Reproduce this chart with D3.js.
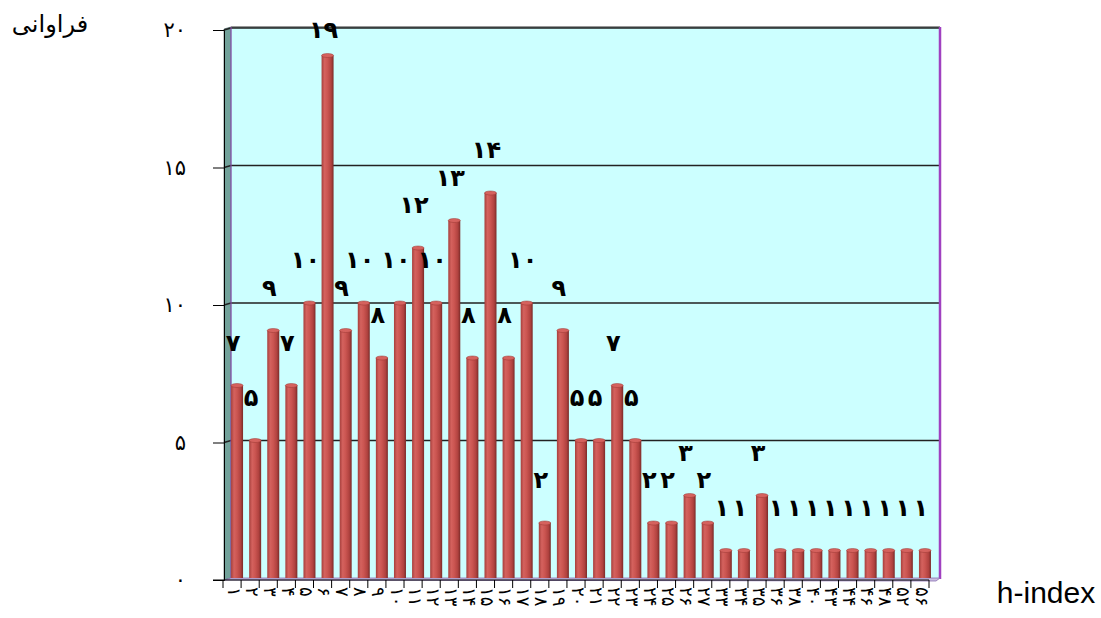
<!DOCTYPE html>
<html>
<head>
<meta charset="utf-8">
<script src="https://cdn.jsdelivr.net/npm/d3@7"></script>
<style>
  html, body { margin: 0; padding: 0; background: #fff; }
  svg { display: block; }
</style>
</head>
<body>
<svg id="chart" width="1101" height="618"></svg>
<script>
// h-index categories (Persian numerals) and the number of researchers in each
const hLabels = ["۱","۲","۳","۴","۵","۶","۷","۸","۹","۱۰","۱۱","۱۲","۱۳","۱۴","۱۵","۱۶","۱۷","۱۸","۱۹","۲۰",
                 "۲۱","۲۲","۲۳","۲۴","۲۵","۲۶","۲۷","۳۳","۳۴","۳۵","۳۶","۳۸","۴۰","۴۳","۴۴","۴۶","۴۸","۵۲","۵۶"];
const frequency = [7,5,9,7,10,19,9,10,8,10,12,10,13,8,14,8,10,2,9,5,
                   5,7,5,2,2,3,2,1,1,3,1,1,1,1,1,1,1,1,1];
const yTicks = [0, 5, 10, 15, 20];
const yTitle = "فراوانی";
const xTitle = "h-index";

const faDigits = "۰۱۲۳۴۵۶۷۸۹";
const toFa = n => String(n).replace(/\d/g, d => faDigits[+d]);

const svg = d3.select("#chart");
const idx = d3.range(frequency.length);

// back plane geometry and a small 3D offset for the front (axis) plane
const back = { left: 231, right: 940, top: 27, bottom: 578 };
const depthX = -7, depthY = 2;

const y = d3.scaleLinear().domain([0, 20]).range([back.bottom, back.top + 1]);
const xBack = d3.scaleBand().domain(idx).range([228, 934]).paddingInner(0);
const xFront = d3.scaleBand().domain(idx).range([223, 929]).paddingInner(0);

// gradient for the cylinder bars
const defs = svg.append("defs");
const g1 = defs.append("linearGradient").attr("id", "barGrad").attr("x1", 0).attr("x2", 1).attr("y1", 0).attr("y2", 0);
[[0, "#a63f3c"], [0.25, "#d4625e"], [0.5, "#cb5551"], [0.8, "#b0423f"], [1, "#7a2b29"]]
  .forEach(([o, c]) => g1.append("stop").attr("offset", o).attr("stop-color", c));

// back wall
svg.append("rect")
  .attr("x", back.left).attr("y", back.top)
  .attr("width", back.right - back.left).attr("height", back.bottom - back.top)
  .attr("fill", "#ccffff");
svg.append("line")
  .attr("x1", back.left).attr("x2", back.right)
  .attr("y1", back.top).attr("y2", back.top)
  .attr("stroke", "#333").attr("stroke-width", 1.2);

// left side wall
svg.append("path")
  .attr("d", `M${back.left + depthX},${back.top + depthY} L${back.left},${back.top} L${back.left},${back.bottom} L${back.left + depthX},${back.bottom + depthY} Z`)
  .attr("fill", "#72a29a")
  .attr("stroke", "#2f4a48").attr("stroke-width", 0.6);

// horizontal gridlines running from the side wall across the back wall
svg.append("g").selectAll("path")
  .data(yTicks.filter(t => t > 0))
  .join("path")
  .attr("d", t => `M${back.left + depthX},${y(t) + depthY} L${back.left},${y(t)} L${back.right},${y(t)}`)
  .attr("fill", "none")
  .attr("stroke", "#222")
  .attr("stroke-width", 1.4);

// wall borders
svg.append("line")
  .attr("x1", back.left).attr("x2", back.left)
  .attr("y1", back.top).attr("y2", back.bottom)
  .attr("stroke", "#9a4fc0").attr("stroke-width", 1);
svg.append("line")
  .attr("x1", back.right).attr("x2", back.right)
  .attr("y1", back.top).attr("y2", back.bottom + 1)
  .attr("stroke", "#a040c0").attr("stroke-width", 2.5);

// floor
svg.append("path")
  .attr("d", `M${back.left + depthX},${back.bottom + depthY} L${back.left},${back.bottom} L${back.right},${back.bottom} L${back.right - 4},${back.bottom + depthY + 1} Z`)
  .attr("fill", "#c9bfe0")
  .attr("stroke", "#8a6fb3").attr("stroke-width", 0.8);

// bars drawn as cylinders
const barW = 12;
const bars = svg.append("g").selectAll("g")
  .data(idx)
  .join("g");
bars.append("rect")
  .attr("x", i => xBack(i) + (xBack.bandwidth() - barW) / 2)
  .attr("y", i => y(frequency[i]))
  .attr("width", barW)
  .attr("height", i => y(0) - y(frequency[i]))
  .attr("fill", "url(#barGrad)");
bars.append("ellipse")
  .attr("cx", i => xBack(i) + xBack.bandwidth() / 2)
  .attr("cy", i => y(frequency[i]))
  .attr("rx", barW / 2)
  .attr("ry", 2)
  .attr("fill", "#d5625e")
  .attr("stroke", "#9a3633").attr("stroke-width", 0.5);

// value labels
svg.append("g").selectAll("text")
  .data(idx)
  .join("text")
  .attr("x", i => xBack(i) + xBack.bandwidth() / 2 - 4)
  .attr("y", i => Math.max(30, y(frequency[i]) - 43))
  .attr("text-anchor", "middle")
  .attr("dominant-baseline", "central")
  .attr("font-family", "DejaVu Sans, sans-serif")
  .attr("font-weight", "bold")
  .attr("font-size", 24)
  .attr("fill", "#000")
  .text(i => toFa(frequency[i]));

// y axis on the front plane
const yFront = y.copy().range([back.bottom + depthY, back.top + depthY + 1]);
const yAxisG = svg.append("g")
  .attr("transform", `translate(${back.left + depthX},0)`)
  .call(d3.axisLeft(yFront).tickValues(yTicks).tickSize(11).tickPadding(27).tickFormat(toFa));
yAxisG.select(".domain").attr("stroke", "#000").attr("stroke-width", 1);
yAxisG.selectAll(".tick line").attr("stroke", "#000");
yAxisG.selectAll("text")
  .attr("font-family", "DejaVu Sans, sans-serif")
  .attr("font-size", 21)
  .attr("fill", "#000");

// x axis on the front plane: boundary ticks and rotated category labels
const xAxisY = back.bottom + depthY;
const xAxisG = svg.append("g")
  .attr("transform", `translate(0,${xAxisY})`)
  .call(d3.axisBottom(xFront).tickSize(0).tickPadding(0).tickFormat(i => hLabels[i]));
xAxisG.select(".domain").remove();
xAxisG.selectAll("text")
  .attr("transform", "translate(1,7) rotate(90)")
  .attr("text-anchor", "start")
  .attr("dy", "0.3em")
  .attr("y", 0)
  .attr("font-family", "DejaVu Sans, sans-serif")
  .attr("font-size", 18)
  .attr("fill", "#000");

svg.append("line")
  .attr("x1", 213).attr("x2", xFront.range()[1])
  .attr("y1", xAxisY).attr("y2", xAxisY)
  .attr("stroke", "#000").attr("stroke-width", 1);
svg.append("g").selectAll("line")
  .data(d3.range(frequency.length + 1))
  .join("line")
  .attr("x1", i => i < frequency.length ? xFront(i) : xFront.range()[1])
  .attr("x2", i => i < frequency.length ? xFront(i) : xFront.range()[1])
  .attr("y1", xAxisY).attr("y2", xAxisY + 8)
  .attr("stroke", "#000").attr("stroke-width", 1);

// axis titles
svg.append("text")
  .attr("x", 50).attr("y", 24)
  .attr("text-anchor", "middle")
  .attr("dominant-baseline", "central")
  .attr("font-family", "DejaVu Sans, sans-serif")
  .attr("font-size", 24)
  .text(yTitle);
svg.append("text")
  .attr("x", 1046).attr("y", 592)
  .attr("text-anchor", "middle")
  .attr("dominant-baseline", "central")
  .attr("font-family", "Liberation Sans, Arial, sans-serif")
  .attr("font-size", 30)
  .text(xTitle);
</script>
</body>
</html>
